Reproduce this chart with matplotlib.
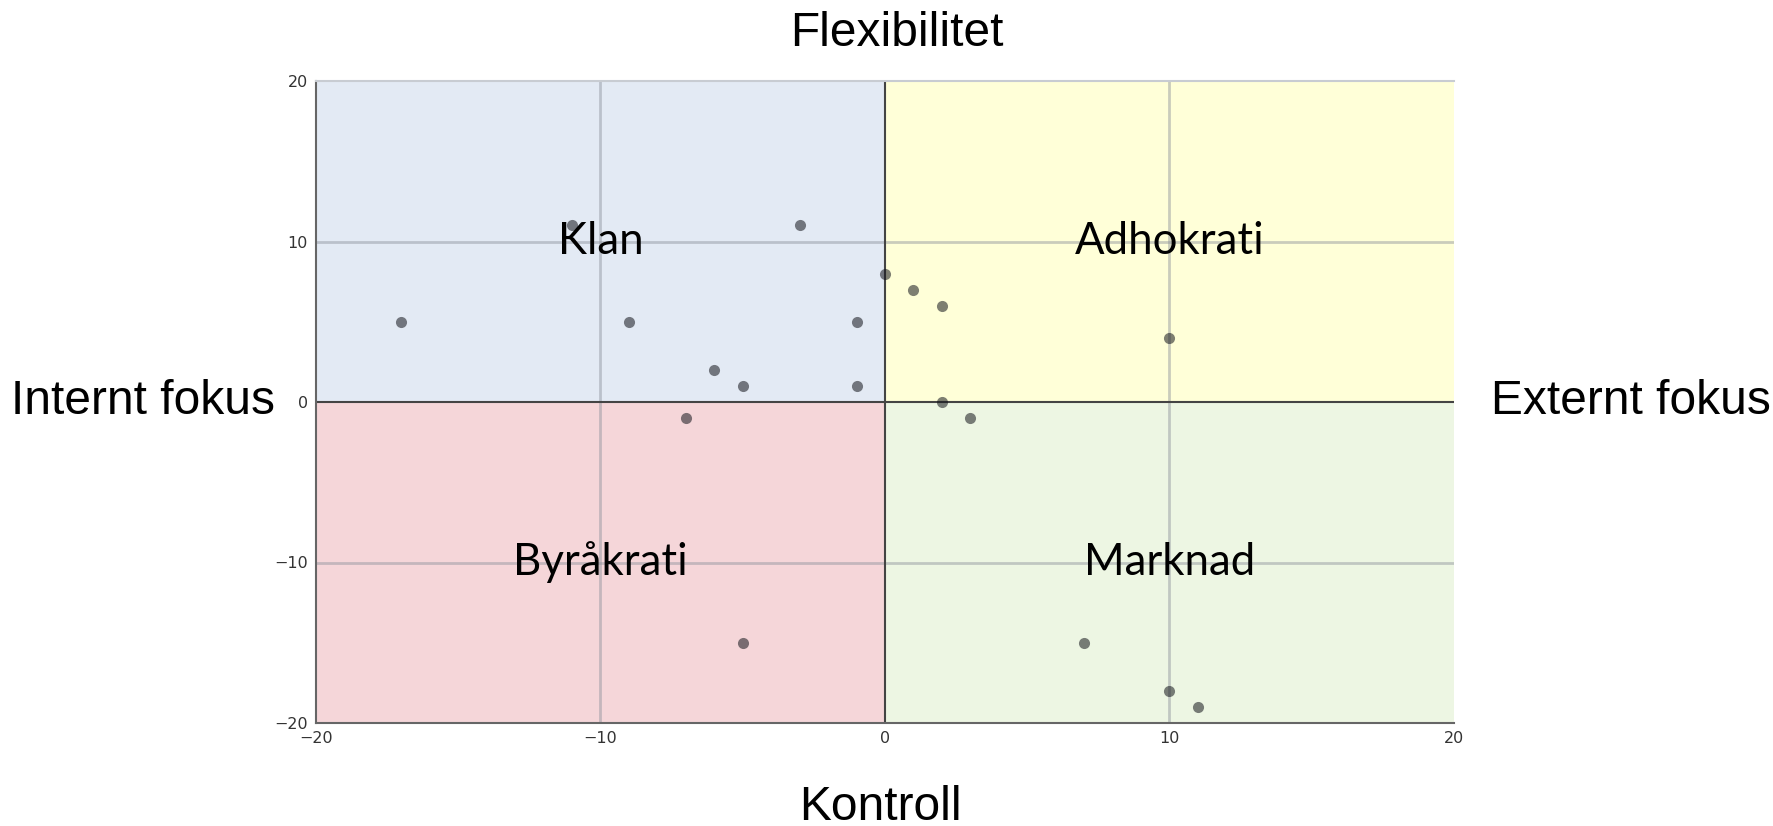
"""Competing values quadrant chart (Klan / Adhokrati / Byråkrati / Marknad)."""

import matplotlib
matplotlib.use('Agg')
import matplotlib.pyplot as plt

# scatter data
x_vals = [-17, -11, -9, -6, -5, -3, -1, -1, 0, 1, 2, 10, 2, 3, -7, -5, 7, 10, 11]
y_vals = [5, 11, 5, 2, 1, 11, 5, 1, 8, 7, 6, 4, 0, -1, -1, -15, -15, -18, -19]

# quadrants: name, x range, y range, colour
quad_names = ['Klan', 'Adhokrati', 'Byråkrati', 'Marknad']
quad_x = [(-20, 0), (0, 20), (-20, 0), (0, 20)]
quad_y = [(0, 20), (0, 20), (-20, 0), (-20, 0)]
quad_colors = ['#e3eaf4', '#ffffd8', '#f5d6d9', '#edf6e3']

ticks = [-20, -10, 0, 10, 20]

fig = plt.figure(figsize=(17.74, 8.26), dpi=100)
ax = fig.add_axes([316 / 1774, 1 - 723 / 826, (1454 - 316) / 1774, (723 - 81) / 826])

for name, (x0, x1), (y0, y1), col in zip(quad_names, quad_x, quad_y, quad_colors):
    ax.fill_between([x0, x1], y0, y1, color=col, lw=0, zorder=0)
    ax.text((x0 + x1) / 2, (y0 + y1) / 2, name, ha='center', va='center',
            fontsize=31.5, family='Lato', color='black', zorder=4)

# grid at +-10, dark lines through origin
for v in [-10, 10]:
    ax.axvline(v, color='#8a8f99', alpha=0.45, lw=2, zorder=1)
    ax.axhline(v, color='#8a8f99', alpha=0.45, lw=2, zorder=1)
ax.axvline(0, color='#444444', lw=1.5, zorder=2)
ax.axhline(0, color='#444444', lw=1.5, zorder=2)

# dark, half transparent dots pick up the quadrant colour
ax.scatter(x_vals, y_vals, s=64, color='#14161c', alpha=0.55, lw=0, zorder=3)

ax.set_xlim(-20, 20)
ax.set_ylim(-20, 20)
ax.set_xticks(ticks)
ax.set_yticks(ticks)
ax.tick_params(length=0, labelsize=11.5, labelcolor='#333333', pad=6)

ax.spines['left'].set_color('#666666')
ax.spines['bottom'].set_color('#666666')
ax.spines['top'].set_color('#c8ccd2')
ax.spines['right'].set_visible(False)
for s in ax.spines.values():
    s.set_linewidth(1.5)

# axis titles around the plot
lab = dict(fontsize=34.5, family='Liberation Sans', color='black')
fig.text(897 / 1774, 1 - 34 / 826, 'Flexibilitet', ha='center', va='center', **lab)
fig.text(880 / 1774, 1 - 807 / 826, 'Kontroll', ha='center', va='center', **lab)
fig.text(11 / 1774, 1 - 401 / 826, 'Internt fokus', ha='left', va='center', **lab)
fig.text(1491 / 1774, 1 - 401 / 826, 'Externt fokus', ha='left', va='center', **lab)

plt.savefig('out.png', dpi=100)
